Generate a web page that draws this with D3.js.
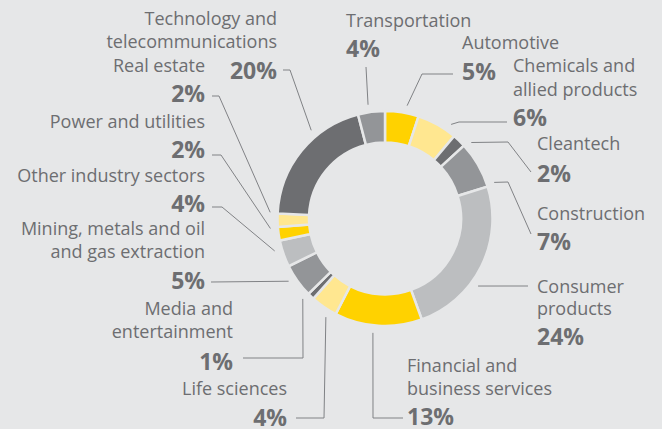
<!DOCTYPE html>
<html>
<head>
<meta charset="utf-8">
<script src="https://cdn.jsdelivr.net/npm/d3@7"></script>
<style>
  html, body { margin: 0; padding: 0; background: #e6e7e8; }
  svg { display: block; }
  .lbl { font-family: "Open Sans", Roboto, sans-serif; font-size: 18px; fill: #6d6e71; }
  .pct { font-family: "Open Sans", Roboto, sans-serif; font-size: 23px; font-weight: 700; fill: #6d6e71; }
</style>
</head>
<body>
<div id="chart"></div>
<script>
const W = 662, H = 429;

// data, clockwise from 12 o'clock
const sectors = [
  "Automotive", "Chemicals and allied products", "Cleantech", "Construction",
  "Consumer products", "Financial and business services", "Life sciences",
  "Media and entertainment", "Mining, metals and oil and gas extraction",
  "Other industry sectors", "Power and utilities", "Real estate",
  "Technology and telecommunications", "Transportation"
];
const shares = [5, 6, 2, 7, 24, 13, 4, 1, 5, 4, 2, 2, 20, 4];
const palette = ["#ffd200", "#ffe790", "#6d6e71", "#939598", "#bcbec0"];

// label layout (text lines, anchor, baselines, leader elbows, angle tweak in degrees)
const layout = [
  { lines: ["Automotive"], anchor: "start", x: 462, y: [49], py: 80, pts: [[453, 74], [422, 74]], da: 2 },
  { lines: ["Chemicals and", "allied products"], anchor: "start", x: 513, y: [72, 96], py: 126, pts: [[507, 122], [459, 122]], da: 6 },
  { lines: ["Cleantech"], anchor: "start", x: 537, y: [150], py: 182, pts: [[531, 172], [508, 142]], da: 5 },
  { lines: ["Construction"], anchor: "start", x: 537, y: [220], py: 250, pts: [[531, 234], [508, 182]], da: 11.7 },
  { lines: ["Consumer", "products"], anchor: "start", x: 537, y: [293, 315], py: 345, pts: [[528, 286]], da: 9.6 },
  { lines: ["Financial and", "business services"], anchor: "start", x: 407, y: [372, 395], py: 425, pts: [[403, 418], [373, 418]], da: 2.4 },
  { lines: ["Life sciences"], anchor: "end", x: 287, y: [395], py: 426, pts: [[296, 418], [324, 418]], da: -3.6 },
  { lines: ["Media and", "entertainment"], anchor: "end", x: 233, y: [315, 338], py: 370, pts: [[243, 358], [303, 358]], da: 2 },
  { lines: ["Mining, metals and oil", "and gas extraction"], anchor: "end", x: 205, y: [235, 258], py: 289, pts: [[211, 282]], da: 2.4 },
  { lines: ["Other industry sectors"], anchor: "end", x: 205, y: [182], py: 212, pts: [[212, 207], [222, 207]], da: 2.7 },
  { lines: ["Power and utilities"], anchor: "end", x: 205, y: [128], py: 158, pts: [[212, 155], [221, 155]], da: 3.2 },
  { lines: ["Real estate"], anchor: "end", x: 205, y: [72], py: 102, pts: [[212, 96], [219, 96]], da: 4 },
  { lines: ["Technology and", "telecommunications"], anchor: "end", x: 277, y: [25, 48], py: 79, pts: [[283, 70], [290, 70]], da: 11 },
  { lines: ["Transportation"], anchor: "start", x: 346, y: [27], py: 57, pts: [[366, 67]], da: -1.2 }
];

const cx = 385, cy = 218.5, rOuter = 107.5, rInner = 76, rLeader = 115;

const svg = d3.select("#chart").append("svg")
  .attr("width", W)
  .attr("height", H);

svg.append("rect").attr("width", W).attr("height", H).attr("fill", "#e6e7e8");

const pie = d3.pie().sort(null).value(d => d)(shares);
const arc = d3.arc().innerRadius(rInner).outerRadius(rOuter);

const g = svg.append("g").attr("transform", "translate(" + cx + "," + cy + ")");

g.selectAll("path.slice")
  .data(pie)
  .enter()
  .append("path")
  .attr("class", "slice")
  .attr("d", arc)
  .attr("fill", (d, i) => palette[i % palette.length])
  .attr("stroke", "#e6e7e8")
  .attr("stroke-width", 2.5);

// leader lines
const line = d3.line();
pie.forEach((d, i) => {
  const L = layout[i];
  const a = (d.startAngle + d.endAngle) / 2 + L.da * Math.PI / 180;
  const end = [cx + rLeader * Math.sin(a), cy - rLeader * Math.cos(a)];
  svg.append("path")
    .attr("d", line(L.pts.concat([end])))
    .attr("fill", "none")
    .attr("stroke", "#808285")
    .attr("stroke-width", 1);
});

// labels
layout.forEach((L, i) => {
  L.lines.forEach((t, j) => {
    svg.append("text")
      .attr("class", "lbl")
      .attr("x", L.x)
      .attr("y", L.y[j])
      .attr("text-anchor", L.anchor)
      .text(t);
  });
  svg.append("text")
    .attr("class", "pct")
    .attr("x", L.x)
    .attr("y", L.py)
    .attr("text-anchor", L.anchor)
    .text(shares[i] + "%");
});
</script>
</body>
</html>
